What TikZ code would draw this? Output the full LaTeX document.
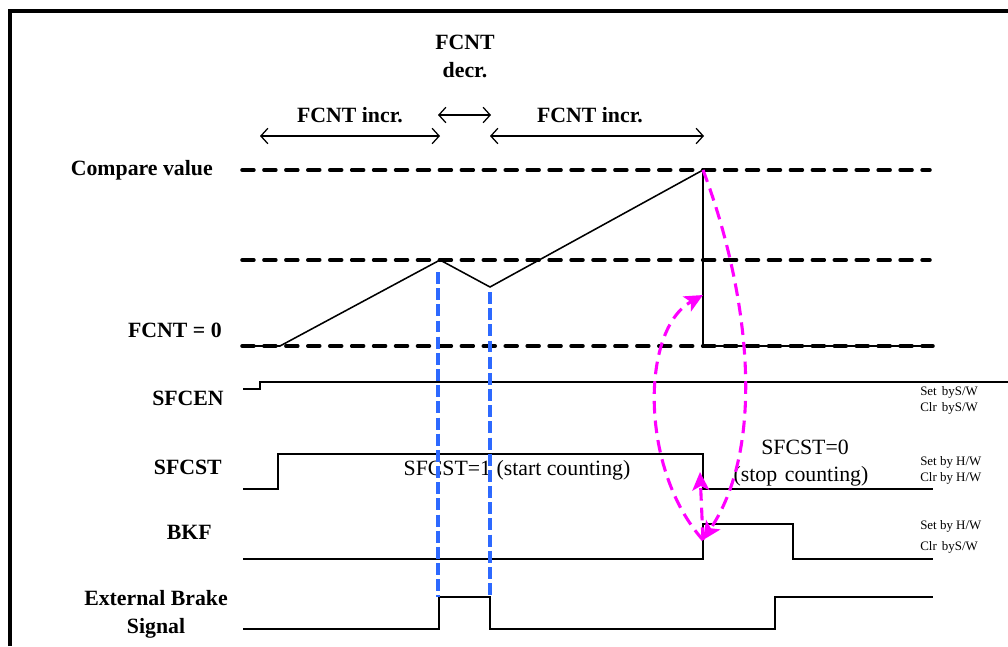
\documentclass[tikz,border=0pt]{standalone}
\usepackage{fontspec}
\setmainfont{Liberation Serif}
\usetikzlibrary{positioning, arrows.meta}
\definecolor{EdgeBlue}{RGB}{45,105,255}
\definecolor{LinkMagenta}{RGB}{255,0,255}
\tikzset{
  sig/.style={line width=1.1pt, black, line join=miter},
  level/.style={line width=2.5pt, dash pattern=on 8.5pt off 7.1pt, line cap=round},
  edgemark/.style={line width=2.2pt, EdgeBlue, dash pattern=on 8.5pt off 3pt},
  cause/.style={-{Stealth[length=13pt,width=12pt,inset=3pt]}, line width=2.2pt, LinkMagenta, dash pattern=on 9pt off 5pt},
  span/.style={{Straight Barb[length=5pt,width=11pt]}-{Straight Barb[length=5pt,width=11pt]}, line width=0.9pt},
  lbl/.style={font=\fontsize{15.5}{20}\selectfont\bfseries, inner sep=0pt},
  txt/.style={font=\fontsize{15.5}{20}\selectfont, inner sep=0pt},
  rwlbl/.style={font=\fontsize{9.2}{10}\selectfont, inner sep=0pt, anchor=west},
}

\begin{document}
\begin{tikzpicture}[x=0.025cm, y=-0.025cm]
  \useasboundingbox (0,0) rectangle (1008,646);
  % frame
  \draw[line width=2.2pt] (10,646) -- (10,11) -- (1008,11);

  % counter levels
  \draw[level] (242,170) -- (930,170);
  \draw[level] (242,260) -- (930,260);
  \draw[level] (242,346) -- (933,346);

  % key points
  \coordinate (start) at (280,346);
  \coordinate (top1) at (440,260);
  \coordinate (valley) at (490,287);
  \coordinate (peak) at (703,170);
  \coordinate (drop) at (703,295);
  \coordinate (bottom) at (703,346);
  \coordinate (sfcstfall) at (700,472);
  \coordinate (bkfrise) at (703,540);

  % FCNT
  \draw[sig] (242,346) -- (start) -- (top1) -- (valley) -- (peak) -- (bottom) -- (933,346);
  % SFCEN
  \draw[sig] (243,389) -- (260,389) -- (260,382) -- (1008,382);
  % SFCST
  \draw[sig] (243,489) -- (278,489) -- (278,454) -- (703,454) -- (703,489) -- (933,489);
  % BKF
  \draw[sig] (243,559) -- (703,559) -- (703,524) -- (793,524) -- (793,559) -- (933,559);
  % External brake
  \draw[sig] (243,629) -- (439,629) -- (439,597) -- (490,597) -- (490,629)
    -- (775,629) -- (775,597) -- (933,597);

  % phase spans
  \coordinate (inc1a) at (260,136);
  \coordinate (inc1b) at (440,136);
  \coordinate (deca) at (438,115);
  \coordinate (decb) at (491,115);
  \coordinate (inc2a) at (490,136);
  \coordinate (inc2b) at (704,136);
  \draw[span] (inc1a) -- (inc1b);
  \draw[span] (deca) -- (decb);
  \draw[span] (inc2a) -- (inc2b);
  \node[lbl] (incr1) at (350,115) {FCNT incr.};
  \node[lbl, align=center] (decr) at (465,56) {FCNT\\decr.};
  \node[lbl] (incr2) at (590,115) {FCNT incr.};

  % signal names
  \node[lbl, anchor=east] (cmpv) at (213,170) {Compare value};
  \node[lbl, anchor=east] (zero) at (222,330) {FCNT = 0};
  \node[lbl, anchor=east] (sfcen) at (224,398) {SFCEN};
  \node[lbl, anchor=east] (sfcst) at (222,467) {SFCST};
  \node[lbl, anchor=east] (bkf) at (212,532) {BKF};
  \node[lbl, align=center] (extbrk) at (156,614) {External Brake\\Signal};

  % state notes
  \node[txt] (run) at (517,470) {SFCST=1 (start counting)};
  \node[txt] (halt) at (805,447) {SFCST=0};
  \node[txt] (haltb) at (801,476) {(stop\hspace{0.35em}counting)};

  % set/clear sources
  \node[rwlbl] (sfcenset) at (920,392) {Set\hspace{0.4em}byS/W};
  \node[rwlbl] (sfcenclr) at (920,408) {Clr\hspace{0.4em}byS/W};
  \node[rwlbl] (sfcstset) at (920,462) {Set by H/W};
  \node[rwlbl] (sfcstclr) at (920,478) {Clr by H/W};
  \node[rwlbl] (bkfset) at (920,526) {Set by H/W};
  \node[rwlbl] (bkfclr) at (920,547) {Clr\hspace{0.4em}byS/W};

  % brake window
  \draw[edgemark] (438,272) -- (438,597);
  \draw[edgemark] (490,292) -- (490,597);

  % cause and effect
  \draw[cause] (peak) .. controls (745,280) and (770,440) .. (bkfrise);
  \draw[cause] (bkfrise) .. controls (640,470) and (640,330) .. (drop);
  \draw[cause] (bkfrise) -- (sfcstfall);
\end{tikzpicture}
\end{document}
